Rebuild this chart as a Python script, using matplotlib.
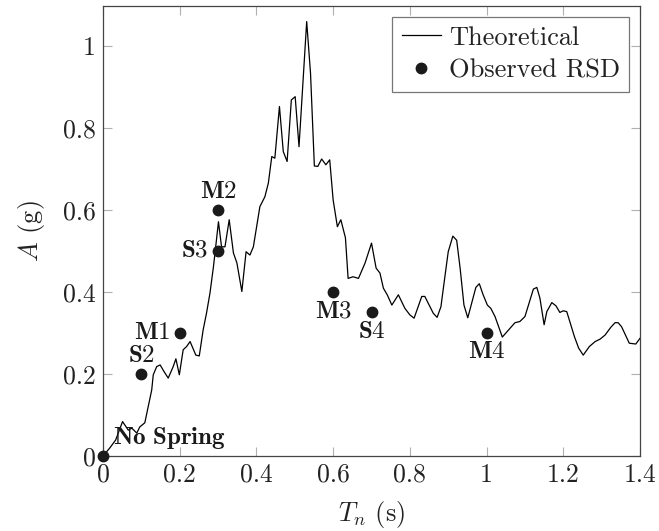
import matplotlib
matplotlib.use('Agg')
import matplotlib.pyplot as plt

plt.rcParams['font.family'] = 'serif'
plt.rcParams['font.serif'] = ['cmr10']
plt.rcParams['mathtext.fontset'] = 'cm'
plt.rcParams['axes.formatter.use_mathtext'] = True

# theoretical spectrum
tn = [0.0, 0.018, 0.033, 0.051, 0.066, 0.075, 0.088, 0.096, 0.109, 0.127,
      0.131, 0.140, 0.149, 0.159, 0.170, 0.183, 0.190, 0.199, 0.209, 0.218,
      0.227, 0.242, 0.251, 0.261, 0.270, 0.279, 0.288, 0.292, 0.301, 0.309,
      0.318, 0.329, 0.340, 0.349, 0.362, 0.373, 0.383, 0.392, 0.409, 0.422,
      0.431, 0.440, 0.448, 0.460, 0.470, 0.480, 0.491, 0.501, 0.511, 0.531,
      0.541, 0.551, 0.560, 0.570, 0.581, 0.591, 0.600, 0.611, 0.620, 0.632,
      0.639, 0.652, 0.666, 0.683, 0.700, 0.712, 0.722, 0.731, 0.741, 0.753,
      0.770, 0.787, 0.800, 0.811, 0.831, 0.839, 0.861, 0.871, 0.881, 0.889,
      0.900, 0.912, 0.922, 0.931, 0.941, 0.951, 0.972, 0.981, 0.991, 1.002,
      1.011, 1.022, 1.041, 1.057, 1.074, 1.087, 1.100, 1.122, 1.131, 1.139,
      1.150, 1.157, 1.170, 1.181, 1.191, 1.200, 1.209, 1.229, 1.240, 1.252,
      1.268, 1.283, 1.296, 1.309, 1.324, 1.335, 1.343, 1.352, 1.372, 1.389,
      1.400]
acc = [0.0, 0.020, 0.039, 0.084, 0.063, 0.068, 0.056, 0.071, 0.081, 0.161,
       0.198, 0.218, 0.222, 0.206, 0.190, 0.218, 0.237, 0.198, 0.259, 0.267,
       0.279, 0.246, 0.244, 0.307, 0.349, 0.398, 0.462, 0.495, 0.571, 0.510,
       0.510, 0.576, 0.495, 0.471, 0.401, 0.498, 0.490, 0.510, 0.608, 0.632,
       0.665, 0.730, 0.726, 0.852, 0.742, 0.718, 0.868, 0.876, 0.754, 1.059,
       0.933, 0.707, 0.706, 0.724, 0.710, 0.722, 0.624, 0.559, 0.576, 0.532,
       0.433, 0.437, 0.433, 0.470, 0.519, 0.458, 0.446, 0.409, 0.393, 0.368,
       0.393, 0.360, 0.344, 0.336, 0.389, 0.389, 0.348, 0.338, 0.364, 0.421,
       0.498, 0.536, 0.526, 0.458, 0.368, 0.337, 0.411, 0.420, 0.393, 0.368,
       0.360, 0.340, 0.290, 0.307, 0.325, 0.328, 0.340, 0.407, 0.411, 0.385,
       0.320, 0.352, 0.374, 0.366, 0.350, 0.354, 0.352, 0.291, 0.263, 0.246,
       0.267, 0.279, 0.285, 0.295, 0.314, 0.325, 0.325, 0.315, 0.275, 0.273,
       0.287]

# observed residual spring displacement points
obs_names = ['No Spring', 'S2', 'M1', 'M2', 'S3', 'M3', 'S4', 'M4']
obs_tn = [0.0, 0.1, 0.2, 0.3, 0.3, 0.6, 0.7, 1.0]
obs_a = [0.0, 0.2, 0.3, 0.6, 0.5, 0.4, 0.35, 0.3]

xticks = [0, 0.2, 0.4, 0.6, 0.8, 1.0, 1.2, 1.4]
xtick_labels = ['0', '0.2', '0.4', '0.6', '0.8', '1', '1.2', '1.4']
yticks = [0, 0.2, 0.4, 0.6, 0.8, 1.0]
ytick_labels = ['0', '0.2', '0.4', '0.6', '0.8', '1']

# label placement (offset in points, alignment)
offsets = {
    'No Spring': ((7, 9), 'left', 'baseline'),
    'S2': ((0, 5), 'center', 'bottom'),
    'M1': ((-7, 0), 'right', 'center'),
    'M2': ((0, 5), 'center', 'bottom'),
    'S3': ((-7, 0), 'right', 'center'),
    'M3': ((0, -6), 'center', 'top'),
    'S4': ((0, -6), 'center', 'top'),
    'M4': ((0, -6), 'center', 'top'),
}

fig = plt.figure(figsize=(6.59, 5.31), dpi=100)
ax = fig.add_axes([0.1563, 0.1412, 0.8149, 0.8475])

ax.plot(tn, acc, color='black', lw=0.9, label='Theoretical')
ax.plot(obs_tn, obs_a, 'o', color='#1a1a1a', ms=7.5, ls='none',
        label='Observed RSD', clip_on=False, zorder=5)

for name, x, y in zip(obs_names, obs_tn, obs_a):
    off, ha, va = offsets[name]
    ax.annotate(r'$\mathbf{' + name.replace(' ', r'\ ') + '}$', (x, y),
                xytext=off, textcoords='offset points', ha=ha, va=va,
                fontsize=18, color='#1a1a1a')

ax.set_xlim(0, 1.4)
ax.set_ylim(0, 1.097)
ax.set_xticks(xticks)
ax.set_xticklabels(xtick_labels)
ax.set_yticks(yticks)
ax.set_yticklabels(ytick_labels)
ax.tick_params(direction='in', length=6.5, width=0.8, color='#b0b0b0',
               labelsize=18.5, top=True, right=True, pad=5, labelcolor='#222222')
for s in ax.spines.values():
    s.set_color('#444444')
    s.set_linewidth(0.9)

ax.set_xlabel(r'$T_n$ (s)', fontsize=19, color='#222222', labelpad=9)
ax.set_ylabel(r'$A$ (g)', fontsize=19, color='#222222', labelpad=12)

leg = ax.legend(loc='upper right', fontsize=19, frameon=True, fancybox=False,
                edgecolor='#555555', handlelength=1.5, borderpad=0.35,
                labelspacing=0.35, handletextpad=0.3, borderaxespad=0.4)
leg.get_frame().set_linewidth(0.9)
for t in leg.get_texts():
    t.set_color('#222222')

fig.savefig('out.png', dpi=100)
